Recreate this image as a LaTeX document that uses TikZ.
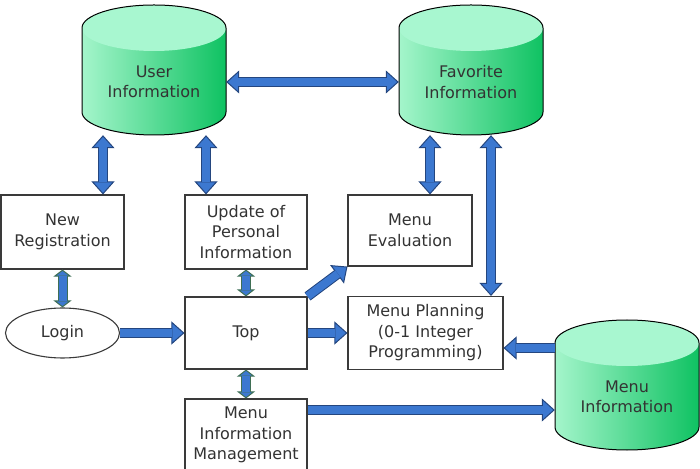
\documentclass[tikz,border=0pt]{standalone}
\usepackage{fontspec}
\setmainfont{DejaVu Sans}
\usetikzlibrary{%
	arrows.meta,%
	shapes.geometric,%
	calc%
}
\definecolor{arrowblue}{HTML}{3C78D0}
\definecolor{arrowedge}{HTML}{24467F}
\definecolor{stubedge}{HTML}{3F6F55}
\definecolor{boxgray}{HTML}{3A3A3A}
\definecolor{textgray}{HTML}{333333}
\definecolor{cylleft}{HTML}{A4F5CB}
\definecolor{cylright}{HTML}{0FC262}
\definecolor{cyltop}{HTML}{A8F7D0}
\tikzset{
	bighead/.tip={Triangle[length=13pt,width=23pt,fill=arrowblue,line width=1pt]},
	smallhead/.tip={Triangle[length=7pt,width=18pt,fill=arrowblue,line width=1pt]}
}
% database drum: name, x, y of the text, text
\newcommand{\database}[4]{%
	\shade[left color=cylleft, right color=cylright] (#2-72,#3+54) -- (#2-72,#3-30)
		arc[start angle=180,end angle=360,x radius=72,y radius=23] -- (#2+72,#3+54)
		arc[start angle=0,end angle=180,x radius=72,y radius=23] -- cycle;
	\fill[cyltop] (#2,#3+54) ellipse[x radius=72,y radius=23];
	\draw[black, line width=1pt] (#2+72,#3+54)
		arc[start angle=0,end angle=180,x radius=72,y radius=23] -- (#2-72,#3-30)
		arc[start angle=180,end angle=360,x radius=72,y radius=23] -- cycle;
	\node[dbtext] (#1) at (#2,#3) {#4};
}

\begin{document}
\begin{tikzpicture}[x=1pt,y=1pt,
		font=\fontsize{16}{20.5}\selectfont,
		box/.style={draw=boxgray, line width=1.1pt, fill=white, align=center, text=textgray, inner sep=0pt},
		dbtext/.style={align=center, text=textgray, inner sep=0pt, minimum width=144pt, minimum height=106pt},
		bigarrow/.style={draw=arrowedge, line width=10pt, -bighead,
			postaction={draw=arrowblue, line width=8pt, arrows=-, shorten >=12pt}},
		bigboth/.style={draw=arrowedge, line width=10pt, bighead-bighead,
			postaction={draw=arrowblue, line width=8pt, arrows=-, shorten >=12pt, shorten <=12pt}},
		stubboth/.style={draw=stubedge, line width=10pt, smallhead-smallhead,
			postaction={draw=arrowblue, line width=8pt, arrows=-, shorten >=6pt, shorten <=6pt}}]
	\useasboundingbox (0,0) rectangle (700,468);

	\database{user}{154}{386}{User\\Information}
	\database{fav}{471}{386}{Favorite\\Information}
	\database{menuinfo}{627}{71}{Menu\\Information}

	\node[box, minimum width=123pt, minimum height=74pt] (newreg) at (62.5,236) {New\\Registration};
	\node[box, minimum width=122pt, minimum height=74pt] (update) at (246,236) {Update of\\Personal\\Information};
	\node[box, minimum width=124pt, minimum height=71pt] (menueval) at (410,237.5) {Menu\\Evaluation};
	\node[box, ellipse, minimum width=114pt, minimum height=50pt] (login) at (62.5,135) {Login};
	\node[box, minimum width=122pt, minimum height=72pt] (top) at (246,135) {Top};
	\node[box, minimum width=155pt, minimum height=73pt] (plan) at (425.5,135) {Menu Planning\\(0-1 Integer\\Programming)};
	\node[box, minimum width=122pt, minimum height=72pt] (mim) at (246,33) {Menu\\Information\\Management};

	\draw[bigboth] (user) -- (fav);
	\draw[bigboth] ([xshift=-51pt]user.south) -- ([xshift=40.5pt]newreg.north);
	\draw[bigboth] ([xshift=52pt]user.south) -- ([xshift=-40pt]update.north);
	\draw[bigboth] ([xshift=-41pt]fav.south) -- ([xshift=20pt]menueval.north);
	\draw[bigboth] ([xshift=20pt]fav.south) -- ([xshift=65.5pt]plan.north);
	\draw[stubboth] (newreg) -- (login);
	\draw[stubboth] (update) -- (top);
	\draw[stubboth] (top) -- (mim);
	\draw[bigarrow] (login) -- (top);
	\draw[bigarrow] (top.north east) -- (menueval.south west);
	\draw[bigarrow] (top) -- (plan);
	\draw[bigarrow] ([yshift=49pt]menuinfo.west) -- ([yshift=-15pt]plan.east);
	\draw[bigarrow] ([yshift=25pt]mim.east) -- ([yshift=-13pt]menuinfo.west);
\end{tikzpicture}
\end{document}
